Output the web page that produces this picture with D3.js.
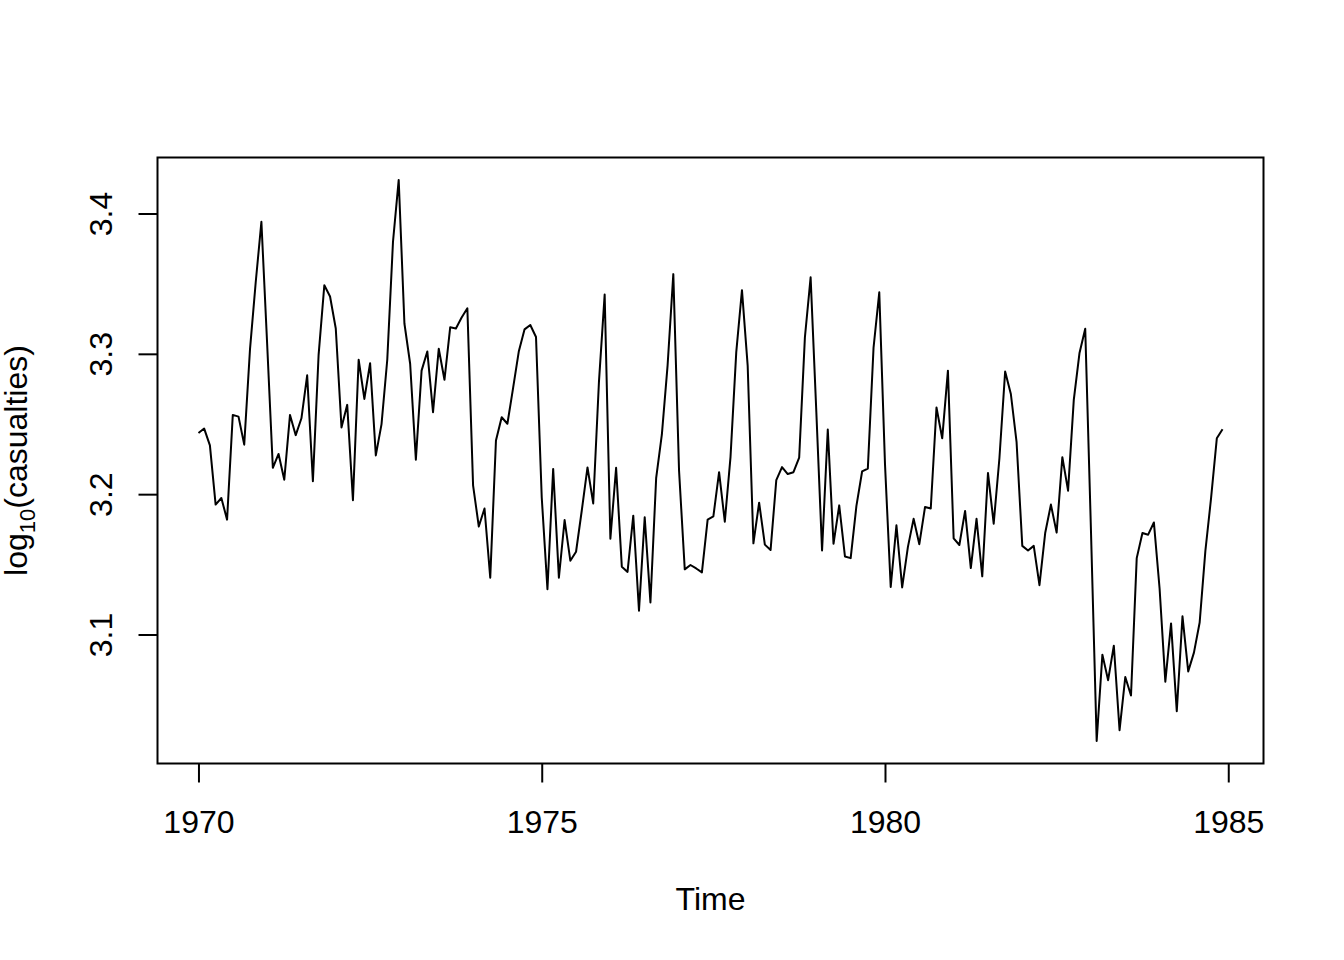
<!DOCTYPE html>
<html>
<head>
<meta charset="utf-8">
<script src="https://cdn.jsdelivr.net/npm/d3@7"></script>
<style>
  body { margin: 0; background: #fff; }
  text { font-family: "Liberation Sans", Arial, Helvetica, sans-serif; fill: #000; }
</style>
</head>
<body>
<div id="chart"></div>
<script>
// monthly driver casualties, Jan 1970 - Dec 1984
var startYear = 1970;
var casualties = [
  1752, 1765, 1717, 1558, 1575, 1520, 1805, 1800, 1719, 2008, 2242, 2478,
  2030, 1655, 1693, 1623, 1805, 1746, 1795, 1926, 1619, 1992, 2233, 2192,
  2080, 1768, 1835, 1569, 1976, 1853, 1965, 1689, 1778, 1976, 2397, 2654,
  2097, 1963, 1677, 1941, 2003, 1813, 2012, 1912, 2084, 2080, 2118, 2150,
  1608, 1503, 1548, 1382, 1731, 1798, 1779, 1887, 2004, 2077, 2092, 2051,
  1577, 1356, 1652, 1382, 1519, 1421, 1442, 1543, 1656, 1561, 1905, 2199,
  1473, 1655, 1407, 1395, 1530, 1309, 1526, 1327, 1627, 1748, 1958, 2274,
  1648, 1401, 1411, 1403, 1394, 1520, 1528, 1643, 1515, 1685, 2000, 2215,
  1956, 1462, 1563, 1459, 1446, 1622, 1657, 1638, 1643, 1683, 2050, 2262,
  1813, 1445, 1762, 1461, 1556, 1431, 1427, 1554, 1645, 1653, 2016, 2207,
  1665, 1361, 1506, 1360, 1453, 1522, 1460, 1552, 1548, 1827, 1737, 1941,
  1474, 1458, 1542, 1404, 1522, 1385, 1641, 1510, 1681, 1938, 1868, 1726,
  1456, 1445, 1456, 1365, 1487, 1558, 1488, 1684, 1594, 1850, 1998, 2079,
  1494, 1057, 1218, 1168, 1236, 1076, 1174, 1139, 1427, 1487, 1483, 1513,
  1357, 1165, 1282, 1110, 1297, 1185, 1222, 1284, 1444, 1575, 1737, 1763
];
var xTicks = [1970, 1975, 1980, 1985];
var yTicks = [3.1, 3.2, 3.3, 3.4];

var svgWidth = 1344;
var svgHeight = 960;

var margin = {
  top: 157.5,
  right: 80.5,
  bottom: 196.5,
  left: 157.5
};

var width = svgWidth - margin.left - margin.right;
var height = svgHeight - margin.top - margin.bottom;

var svg = d3.select("#chart")
  .append("svg")
  .attr("width", svgWidth)
  .attr("height", svgHeight);

var chartGroup = svg.append("g")
  .attr("transform", `translate(${margin.left}, ${margin.top})`);

var series = casualties.map(function(v, i) {
  return { t: startYear + i / 12, y: Math.log10(v) };
});

// R style 4% padding on both axes
function padded(ext) {
  var d = (ext[1] - ext[0]) * 0.04;
  return [ext[0] - d, ext[1] + d];
}

var xScale = d3.scaleLinear()
  .domain(padded(d3.extent(series, d => d.t)))
  .range([0, width]);

var yScale = d3.scaleLinear()
  .domain(padded(d3.extent(series, d => d.y)))
  .range([height, 0]);

// axes
var bottomAxis = d3.axisBottom(xScale)
  .tickValues(xTicks)
  .tickFormat(d3.format("d"))
  .tickSizeInner(19)
  .tickSizeOuter(0)
  .tickPadding(8);

var leftAxis = d3.axisLeft(yScale)
  .tickValues(yTicks)
  .tickFormat(d3.format(".1f"))
  .tickSizeInner(19)
  .tickSizeOuter(0);

var xAxisG = chartGroup.append("g")
  .attr("transform", `translate(0, ${height})`)
  .call(bottomAxis);
xAxisG.select(".domain").remove();
xAxisG.selectAll("line").attr("stroke", "#000").attr("stroke-width", 2);
xAxisG.selectAll("text")
  .attr("font-size", 32)
  .attr("font-family", "Liberation Sans, Arial, sans-serif")
  .attr("fill", "#000")
  .attr("dy", null)
  .attr("y", 69);

var yAxisG = chartGroup.append("g")
  .call(leftAxis);
yAxisG.select(".domain").remove();
yAxisG.selectAll("line").attr("stroke", "#000").attr("stroke-width", 2);
yAxisG.selectAll("text")
  .attr("font-size", 32)
  .attr("font-family", "Liberation Sans, Arial, sans-serif")
  .attr("fill", "#000")
  .attr("x", null)
  .attr("dy", null)
  .attr("text-anchor", "middle")
  .attr("transform", "translate(-45.5, 0) rotate(-90)");

// box
chartGroup.append("rect")
  .attr("width", width)
  .attr("height", height)
  .attr("fill", "none")
  .attr("stroke", "#000")
  .attr("stroke-width", 2);

// series line
var line = d3.line()
  .x(d => xScale(d.t))
  .y(d => yScale(d.y));

chartGroup.append("path")
  .datum(series)
  .attr("d", line)
  .attr("fill", "none")
  .attr("stroke", "#000")
  .attr("stroke-width", 2)
  .attr("stroke-linejoin", "round");

// axis labels
svg.append("text")
  .attr("x", margin.left + width / 2)
  .attr("y", 910)
  .attr("text-anchor", "middle")
  .attr("font-size", 32)
  .text("Time");

var yLabel = svg.append("text")
  .attr("transform", `translate(27, ${margin.top + height / 2}) rotate(-90)`)
  .attr("text-anchor", "middle")
  .attr("font-size", 32);
yLabel.append("tspan").text("log");
yLabel.append("tspan").attr("font-size", 22).attr("dy", 8).text("10");
yLabel.append("tspan").attr("dy", -8).text("(casualties)");
</script>
</body>
</html>
